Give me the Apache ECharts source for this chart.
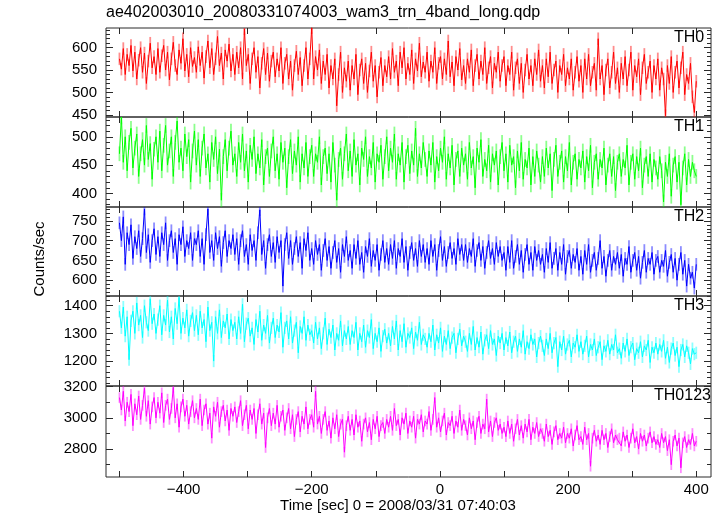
<!DOCTYPE html>
<html><head><meta charset="utf-8">
<script src="https://cdn.jsdelivr.net/npm/echarts@6/dist/echarts.min.js"></script>
<style>html,body{margin:0;padding:0;background:#fff}#c{width:722px;height:516px}</style>
</head><body><div id="c"></div>
<script>
// Light-curve samples (counts/sec), evenly spaced bins from t=-500 s to t=400 s
const th0 = [
575,552,598,540,585,560,605,548,590,530,572,600,545,588,520,570,610,555,580,540,
598,545,582,605,550,590,528,575,612,560,540,595,565,620,548,585,535,600,558,578,
545,602,560,590,532,580,615,555,598,540,575,625,560,588,530,595,570,608,548,585,
540,590,555,600,530,642,560,585,520,575,600,545,580,510,565,598,540,588,525,570,
590,535,575,548,600,520,565,585,530,570,505,560,592,540,578,515,560,600,530,575,
645,530,580,550,595,520,570,540,585,510,560,530,575,470,540,590,500,555,525,570,
505,560,530,585,495,550,575,520,565,500,548,590,525,560,490,545,578,515,560,535,
580,530,598,545,570,515,590,555,600,530,565,540,595,520,575,548,610,535,568,545,
590,525,570,545,600,520,565,580,530,575,540,615,535,568,515,580,550,598,528,560,
520,575,545,595,515,560,585,530,570,540,600,520,555,580,510,565,545,590,525,560,
580,515,560,540,590,505,555,575,520,565,500,550,585,530,560,515,575,540,595,525,
560,510,575,535,590,520,550,570,500,560,540,585,515,555,530,575,505,545,580,525,
560,500,575,530,585,515,545,565,505,620,530,560,495,550,575,510,545,590,520,555,
500,565,530,580,515,550,590,505,560,535,575,495,555,585,520,545,570,500,560,530,
575,505,555,530,448,560,520,580,500,545,570,510,555,590,495,540,520,565,490,455,
525];
const th1 = [
470,535,455,500,440,490,515,445,480,505,430,470,495,450,520,460,488,425,478,500,
455,510,440,485,520,450,475,500,430,490,528,455,480,440,505,465,495,420,475,510,
450,495,430,480,505,445,470,420,490,460,500,435,478,388,465,495,440,480,510,450,
470,430,490,455,505,440,475,420,485,460,500,435,470,445,495,415,465,480,430,475,
500,440,470,425,490,455,480,410,465,495,435,475,450,500,420,470,445,490,430,465,
485,430,470,455,500,415,465,480,435,470,420,490,450,388,460,480,425,470,505,440,
475,430,495,450,470,415,480,460,500,430,465,445,490,420,470,455,485,425,465,500,
440,480,455,505,425,470,450,490,420,465,485,435,475,450,515,430,470,445,490,460,
430,475,450,490,420,465,440,480,455,500,425,470,445,485,415,460,475,430,480,450,
470,425,490,445,465,410,480,455,495,430,460,440,485,420,470,450,475,415,465,490,
440,470,420,485,450,465,410,475,440,490,425,460,445,480,415,465,430,475,450,420,
465,430,480,445,470,405,460,485,430,455,475,420,465,440,490,415,455,470,425,460,
445,475,420,465,440,485,410,455,470,425,460,445,480,415,450,470,430,465,405,455,
470,430,460,445,485,415,455,470,425,465,440,480,410,450,465,430,470,420,460,445,
425,465,440,385,455,430,470,395,450,465,420,455,380,445,470,415,460,430,455,440,
430];
const th2 = [
745,700,760,640,720,690,740,655,710,680,725,660,705,780,670,715,645,700,730,665,
710,660,720,690,745,650,700,725,670,705,640,715,690,735,660,700,680,720,650,705,
690,725,660,705,640,715,780,670,700,650,720,680,710,635,695,725,660,700,680,715,
665,705,640,700,725,660,690,640,715,675,700,650,720,778,665,700,630,690,715,660,
695,645,710,670,700,585,690,720,655,700,640,680,710,660,695,630,705,675,720,650,
680,640,700,665,690,625,675,705,650,685,630,670,700,645,680,620,690,660,710,650,
675,630,690,655,700,640,670,620,685,660,705,635,675,650,690,625,665,700,645,680,
640,690,655,700,630,680,660,705,645,685,625,670,695,650,680,635,700,660,690,645,
680,640,700,660,690,625,675,710,650,685,635,670,695,655,680,640,705,665,690,650,
690,645,680,660,705,635,675,695,650,685,630,670,700,655,680,640,695,660,685,650,
670,625,685,645,700,630,660,690,640,675,620,665,690,640,670,625,685,650,675,640,
665,620,680,645,695,630,655,680,625,670,640,690,615,660,675,630,665,645,680,625,
660,615,675,640,690,620,650,670,625,655,700,630,660,610,650,675,625,660,640,670,
630,665,610,655,640,685,620,650,670,625,660,605,645,675,620,655,640,670,615,650,
660,620,650,635,675,610,645,665,620,655,600,640,670,615,650,585,640,605,620,580,
640];
const th3 = [
1380,1320,1395,1290,1360,1205,1345,1380,1300,1410,1330,1365,1285,1400,1340,1310,1425,1335,1370,1300,
1350,1400,1295,1365,1330,1420,1305,1360,1280,1390,1335,1430,1300,1355,1320,1385,1290,1345,1375,1310,
1365,1295,1380,1320,1350,1270,1395,1310,1340,1200,1360,1300,1385,1285,1345,1320,1370,1280,1350,1310,
1340,1280,1360,1300,1405,1270,1335,1355,1290,1320,1260,1350,1305,1380,1275,1330,1300,1365,1265,1320,
1355,1285,1330,1305,1375,1250,1320,1345,1280,1360,1265,1310,1340,1230,1325,1300,1360,1275,1330,1295,
1310,1265,1340,1280,1320,1245,1300,1355,1260,1315,1285,1330,1240,1300,1275,1345,1255,1310,1280,1325,
1260,1310,1285,1340,1240,1300,1270,1330,1250,1310,1285,1350,1245,1300,1270,1320,1235,1290,1315,1265,
1300,1255,1325,1280,1345,1240,1310,1270,1335,1250,1300,1285,1320,1245,1305,1275,1340,1260,1295,1280,
1250,1300,1270,1330,1240,1295,1265,1320,1235,1290,1260,1310,1245,1285,1300,1230,1280,1315,1255,1290,
1270,1235,1300,1260,1325,1240,1285,1250,1305,1225,1275,1295,1245,1310,1260,1280,1220,1290,1265,1300,
1240,1285,1255,1305,1230,1270,1290,1235,1280,1250,1310,1225,1270,1245,1295,1260,1280,1215,1265,1290,
1255,1220,1280,1245,1300,1230,1265,1285,1180,1270,1240,1290,1225,1260,1275,1215,1265,1250,1295,1235,
1270,1225,1255,1290,1215,1260,1240,1280,1220,1250,1270,1205,1255,1235,1275,1225,1260,1240,1295,1230,
1245,1210,1265,1235,1280,1220,1250,1265,1205,1245,1230,1270,1215,1255,1240,1275,1195,1250,1230,1265,
1225,1260,1235,1275,1210,1250,1195,1245,1265,1220,1250,1180,1240,1260,1215,1255,1230,1190,1245,1225,
1230];
const th0123 = [
3130,3050,3170,2980,3100,3040,3150,2950,3090,3020,3140,2990,3080,3190,3010,3110,2960,3070,3130,3000,
3100,3030,3160,2970,3080,3120,2990,3060,3195,3000,3090,2940,3070,3120,3010,3080,2960,3040,3110,3000,
3060,2990,3120,2950,3050,3090,2960,3030,2870,3070,3010,3100,2940,3040,3080,2980,3050,2920,3060,3010,
3070,2970,3040,3110,2950,3020,3080,2930,3050,2990,3060,2900,3020,3090,2960,3030,2810,3000,3060,2950,
3030,2960,3080,2940,3010,3050,2920,3000,3060,2930,3020,2880,2990,3040,2910,3010,2960,3070,2930,2990,
3020,2940,3170,2960,3010,2900,2990,3040,2920,2980,2870,3000,2930,3020,2880,2960,2990,2780,2950,3010,
2920,2990,2890,3020,2940,2980,2850,2960,3000,2910,2970,2860,2990,2930,3010,2880,2950,2970,2900,2990,
2940,3010,2920,3060,2950,2990,2890,3000,2960,3030,2900,2980,2940,3010,2870,2990,2960,3020,2910,2980,
2960,3040,2920,2990,3130,2940,3000,2910,2980,3030,2890,2970,2950,3010,2900,2980,2940,3050,2920,2990,
2950,2890,3000,2930,2980,2860,2970,3010,2900,2960,2930,3120,2910,2980,2880,2970,3000,2920,2960,2900,
2940,2880,2980,2900,2960,2850,2930,2990,2890,2950,2870,2960,2910,2990,2860,2940,2900,2970,2880,2930,
2900,2850,2960,2880,2920,2830,2910,2950,2860,2900,2870,2940,2840,2900,2870,2930,2820,2890,2950,2860,
2880,2830,2940,2860,2900,2690,2870,2920,2850,2890,2830,2920,2860,2900,2810,2880,2930,2840,2890,2860,
2870,2820,2910,2850,2890,2810,2870,2930,2840,2880,2800,2900,2850,2890,2820,2870,2910,2840,2880,2830,
2860,2810,2900,2840,2880,2790,2860,2700,2850,2890,2820,2870,2680,2840,2880,2810,2860,2830,2900,2820,
2850];
// typical 1-sigma error bar half-length per band (counts/sec)
const errHalf = [14, 13, 16, 22, 34];

const bandNames = ['TH0', 'TH1', 'TH2', 'TH3', 'TH0123'];
const bandData = [th0, th1, th2, th3, th0123];
const timeStart = -500, timeEnd = 400;
const xLabelValues = [-400, -200, 0, 200, 400];
const xTickValues = [-500, -400, -300, -200, -100, 0, 100, 200, 300, 400];
const yLabelValues = [[450, 500, 550, 600], [400, 450, 500], [600, 650, 700, 750], [1200, 1300, 1400], [2800, 3000, 3200]];
const yMinorTicks = [
  [450,460,470,480,490,500,510,520,530,540,550,560,570,580,590,600,610,620,630,640],
  [380,390,400,410,420,430,440,450,460,470,480,490,500,510,520,530],
  [560,570,580,590,600,610,620,630,640,650,660,670,680,690,700,710,720,730,740,750,760,770,780],
  [1120,1140,1160,1180,1200,1220,1240,1260,1280,1300,1320,1340,1360,1380,1400,1420],
  [2700,2800,2900,3000,3100,3200]
];
const titleText = 'ae402003010_20080331074003_wam3_trn_4band_long.qdp';
const xTitle = 'Time [sec] 0 = 2008/03/31 07:40:03';
const yTitle = 'Counts/sec';

// styling / layout
const colors = ['#ff0000', '#00ff00', '#0000ff', '#00ffff', '#ff00ff'];
const yRanges = [[445, 644], [376, 535], [560, 785], [1110, 1435], [2621, 3204]];
const tops = [28, 117, 207, 296, 386];
const heights = [89, 90, 89, 90, 91];
const nameLeft = [674, 674, 674, 674, 654];
const FONT = '"Liberation Sans", Arial, Helvetica, sans-serif';
const frame = '#2a2a2a';

const grids = [], xAxes = [], yAxes = [], series = [], graphics = [];
const fmtX = v => v < 0 ? '\u2212' + (-v) : String(v);
const fmtY = v => String(v);

bandData.forEach((vals, i) => {
  grids.push({left: 106, right: 11, top: tops[i], height: heights[i], show: true,
    borderColor: frame, borderWidth: 1, backgroundColor: 'transparent'});
  ['bottom', 'top'].forEach(pos => {
    xAxes.push({type: 'value', gridIndex: i, min: -521, max: 423, position: pos,
      axisLine: {show: false, onZero: false}, splitLine: {show: false},
      axisTick: {show: true, inside: true, length: 6, customValues: xTickValues, lineStyle: {color: frame}},
      axisLabel: {show: pos === 'bottom' && i === 4, customValues: xLabelValues, formatter: fmtX,
        fontSize: 15, fontFamily: FONT, color: '#000', margin: 5}});
  });
  const [ymin, ymax] = yRanges[i];
  ['left', 'right'].forEach(pos => {
    yAxes.push({type: 'value', gridIndex: i, min: ymin, max: ymax, position: pos,
      axisLine: {show: false, onZero: false}, splitLine: {show: false},
      axisTick: {show: true, inside: true, length: 7, customValues: yLabelValues[i], lineStyle: {color: frame}},
      axisLabel: {show: pos === 'left', customValues: yLabelValues[i], formatter: fmtY, fontSize: 15, fontFamily: FONT,
        color: '#000', margin: 9}});
    yAxes.push({type: 'value', gridIndex: i, min: ymin, max: ymax, position: pos,
      axisLine: {show: false, onZero: false}, splitLine: {show: false},
      axisTick: {show: true, inside: true, length: 4, customValues: yMinorTicks[i], lineStyle: {color: frame}},
      axisLabel: {show: false}});
  });
  const n = vals.length;
  const pts = vals.map((v, k) => [timeStart + k * (timeEnd - timeStart) / (n - 1), v, errHalf[i]]);
  const col = colors[i];
  series.push({type: 'custom', xAxisIndex: i * 2, yAxisIndex: i * 4, data: pts, silent: true, z: 1, clip: true,
    renderItem: (params, api) => {
      const x = api.value(0), y = api.value(1), e = api.value(2);
      const a = api.coord([x, y - e]), b = api.coord([x, y + e]);
      return {type: 'line', shape: {x1: a[0], y1: a[1], x2: b[0], y2: b[1]},
        style: {stroke: col, lineWidth: 1.8, opacity: 0.45}};
    }});
  series.push({type: 'line', xAxisIndex: i * 2, yAxisIndex: i * 4, data: pts, symbol: 'none',
    encode: {x: 0, y: 1}, lineStyle: {color: col, width: 1}, silent: true, z: 2});
  graphics.push({type: 'text', left: nameLeft[i], top: tops[i] + 2,
    style: {text: bandNames[i], font: '16px ' + FONT, fill: '#000'}});
});

graphics.push({type: 'text', left: 106, top: 5, style: {text: titleText, font: '16px ' + FONT, fill: '#000'}});
graphics.push({type: 'text', x: 40, y: 259, rotation: Math.PI / 2,
  style: {text: yTitle, font: '15px ' + FONT, fill: '#000', textAlign: 'center', textVerticalAlign: 'middle'}});
graphics.push({type: 'text', x: 398, y: 506,
  style: {text: xTitle, font: '15px ' + FONT, fill: '#000', textAlign: 'center', textVerticalAlign: 'middle'}});

const chart = echarts.init(document.getElementById('c'), null, {renderer: 'canvas'});
chart.setOption({animation: false, backgroundColor: '#fff', grid: grids, xAxis: xAxes, yAxis: yAxes,
  series: series, graphic: graphics});
</script></body></html>
